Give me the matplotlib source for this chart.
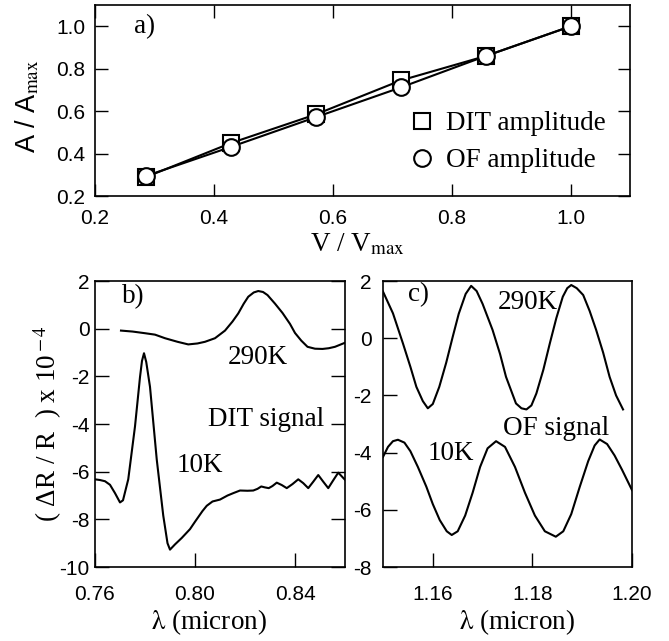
"""
Recreated figure: DIT / OF amplitudes and signals
"""
import matplotlib
matplotlib.use("Agg")
import matplotlib.pyplot as plt
from matplotlib.lines import Line2D

plt.rcParams["font.family"] = ["Liberation Sans", "DejaVu Sans"]
plt.rcParams["mathtext.fontset"] = "stix"
SERIF = ["Liberation Serif", "DejaVu Serif"]

# ---- panel a) amplitudes vs voltage ----
v_ratio = [0.2857, 0.4286, 0.5714, 0.7143, 0.8571, 1.0]
dit_amp = [0.29, 0.45, 0.585, 0.745, 0.86, 1.0]
of_amp = [0.295, 0.432, 0.572, 0.712, 0.86, 1.0]

# ---- panel b) DIT signal ----
dit_290_lam = [0.7704, 0.7750, 0.7800, 0.7840, 0.7880, 0.7930, 0.7973, 0.8010,
               0.8040, 0.8080, 0.8120, 0.8150, 0.8173, 0.8195, 0.8213, 0.8235,
               0.8253, 0.8272, 0.8290, 0.8320, 0.8350, 0.8380, 0.8400, 0.8425,
               0.8450, 0.8480, 0.8510, 0.8535, 0.8560, 0.8600]
dit_290_val = [-0.08, -0.12, -0.19, -0.25, -0.40, -0.55, -0.66, -0.62,
               -0.55, -0.40, -0.08, 0.30, 0.64, 1.05, 1.34, 1.52,
               1.58, 1.54, 1.41, 1.05, 0.66, 0.20, -0.18, -0.50,
               -0.76, -0.84, -0.85, -0.82, -0.76, -0.59]

dit_10_lam = [0.7600, 0.7620, 0.7640, 0.7660, 0.7680, 0.7700, 0.7712, 0.7733,
              0.7760, 0.7780, 0.7788, 0.7796, 0.7805, 0.7820, 0.7847, 0.7873,
              0.7890, 0.7900, 0.7920, 0.7947, 0.7980, 0.8000, 0.8030, 0.8047,
              0.8070, 0.8100, 0.8130, 0.8153, 0.8180, 0.8210, 0.8233, 0.8250,
              0.8265, 0.8280, 0.8295, 0.8310, 0.8327, 0.8347, 0.8367, 0.8390,
              0.8413, 0.8433, 0.8453, 0.8473, 0.8493, 0.8513, 0.8533, 0.8553,
              0.8573, 0.8600]
dit_10_val = [-6.32, -6.35, -6.40, -6.55, -6.90, -7.29, -7.20, -6.32,
              -4.10, -2.03, -1.35, -1.03, -1.40, -2.44, -5.49, -7.84,
              -9.00, -9.27, -9.05, -8.78, -8.41, -8.10, -7.65, -7.43,
              -7.25, -7.17, -7.00, -6.90, -6.79, -6.80, -6.79, -6.72,
              -6.62, -6.66, -6.69, -6.60, -6.46, -6.56, -6.69, -6.52,
              -6.32, -6.48, -6.69, -6.42, -6.14, -6.42, -6.69, -6.36,
              -6.04, -6.34]

# ---- panel c) OF signal ----
of_290_lam = [1.1500, 1.1520, 1.1540, 1.1555, 1.1567, 1.1580, 1.1590, 1.1600,
              1.1613, 1.1627, 1.1640, 1.1652, 1.1666, 1.1677, 1.1688, 1.1700,
              1.1720, 1.1735, 1.1747, 1.1767, 1.1778, 1.1788, 1.1798, 1.1808,
              1.1822, 1.1835, 1.1848, 1.1861, 1.1870, 1.1878, 1.1889, 1.1902,
              1.1915, 1.1928, 1.1942, 1.1955, 1.1968, 1.1982]
of_290_val = [1.63, 0.87, -0.18, -1.00, -1.70, -2.20, -2.45, -2.30,
              -1.70, -0.85, 0.05, 0.85, 1.55, 1.83, 1.65, 1.20,
              0.29, -0.55, -1.35, -2.28, -2.45, -2.49, -2.35, -1.93,
              -1.10, -0.18, 0.70, 1.45, 1.75, 1.86, 1.75, 1.51,
              0.95, 0.29, -0.50, -1.35, -2.00, -2.49]

of_10_lam = [1.1500, 1.1510, 1.1520, 1.1530, 1.1543, 1.1555, 1.1570, 1.1587,
             1.1600, 1.1614, 1.1628, 1.1638, 1.1650, 1.1665, 1.1680, 1.1695,
             1.1710, 1.1727, 1.1745, 1.1765, 1.1785, 1.1805, 1.1825, 1.1847,
             1.1862, 1.1878, 1.1895, 1.1912, 1.1925, 1.1935, 1.1950, 1.1965,
             1.1980, 1.2000]
of_10_val = [-4.15, -3.80, -3.60, -3.55, -3.65, -3.95, -4.50, -5.19,
             -5.80, -6.36, -6.75, -6.88, -6.75, -6.20, -5.40, -4.50,
             -3.85, -3.60, -3.80, -4.50, -5.40, -6.20, -6.75, -6.94,
             -6.75, -6.15, -5.20, -4.30, -3.75, -3.54, -3.70, -4.10,
             -4.60, -5.31]

fig = plt.figure(figsize=(6.69, 6.41), dpi=100)
ax_a = fig.add_axes([0.142, 0.694, 0.7997, 0.298])
ax_b = fig.add_axes([0.142, 0.1154, 0.3737, 0.4462])
ax_c = fig.add_axes([0.5725, 0.1154, 0.3722, 0.4462])

LW = 1.5
TXT = 19.5
TICK = 15
LAM = r"$\mathrm{\lambda}$ (micron)"

# ===== a) =====
ax_a.plot(v_ratio, dit_amp, color="black", lw=LW, marker="s", ms=11,
          mfc="white", mec="black", mew=1.5)
ax_a.plot(v_ratio, of_amp, color="black", lw=LW, marker="o", ms=12,
          mfc="white", mec="black", mew=1.5)
ax_a.set_xlim(0.2, 1.1)
ax_a.set_ylim(0.2, 1.1)
ax_a.set_xticks([0.2, 0.4, 0.6, 0.8, 1.0])
ax_a.set_yticks([0.2, 0.4, 0.6, 0.8, 1.0])
ax_a.set_xticklabels(["0.2", "0.4", "0.6", "0.8", "1.0"])
ax_a.set_yticklabels(["0.2", "0.4", "0.6", "0.8", "1.0"])
ax_a.tick_params(direction="in", length=9, width=1, top=True, right=True, labelsize=TICK)
ax_a.tick_params(axis="x", pad=9)
ax_a.tick_params(axis="y", pad=7)
ax_a.set_xlabel(r"V / V$_{\mathrm{max}}$", fontsize=TXT, family=SERIF)
ax_a.xaxis.set_label_coords(0.49, -0.185)
ax_a.set_ylabel(r"A / A$_{\mathrm{max}}$", fontsize=TXT)
ax_a.yaxis.set_label_coords(-0.100, 0.47)
ax_a.text(0.266, 1.0, "a)", fontsize=TXT, family=SERIF, va="center")

handles = [Line2D([], [], ls="none", marker="s", ms=11, mfc="white", mec="black", mew=1.5),
           Line2D([], [], ls="none", marker="o", ms=12, mfc="white", mec="black", mew=1.5)]
ax_a.legend(handles, ["DIT amplitude", "OF amplitude"], loc="upper left",
            bbox_to_anchor=(0.585, 0.445), frameon=False, borderpad=0, borderaxespad=0,
            handlelength=1.0, handletextpad=0.4, labelspacing=0.45,
            prop={"family": SERIF, "size": TXT})

# ===== b) =====
ax_b.plot(dit_290_lam, dit_290_val, color="black", lw=LW)
ax_b.plot(dit_10_lam, dit_10_val, color="black", lw=LW)
ax_b.set_xlim(0.76, 0.86)
ax_b.set_ylim(-10, 2)
ax_b.set_xticks([0.76, 0.80, 0.84])
ax_b.set_xticklabels(["0.76", "0.80", "0.84"])
ax_b.set_yticks([-10, -8, -6, -4, -2, 0, 2])
ax_b.set_yticklabels(["-10", "-8", "-6", "-4", "-2", "0", "2"])
ax_b.tick_params(direction="in", length=10, width=1, right=True, labelsize=TICK)
ax_b.tick_params(axis="x", pad=13)
ax_b.tick_params(axis="y", pad=4)
ax_b.set_xlabel(LAM, fontsize=TXT, family=SERIF)
ax_b.xaxis.set_label_coords(0.456, -0.14)
ax_b.set_ylabel(r"( ΔR / R  ) x 10$^{\,\mathrm{-}\,4}$", fontsize=TXT, family=SERIF)
ax_b.yaxis.set_label_coords(-0.125, 0.5)
ax_b.text(0.7708, 1.33, "b)", fontsize=TXT, family=SERIF, va="center")
ax_b.text(0.8132, -1.23, "290K", fontsize=TXT, family=SERIF, va="center")
ax_b.text(0.8052, -3.83, "DIT signal", fontsize=TXT, family=SERIF, va="center")
ax_b.text(0.7928, -5.73, "10K", fontsize=TXT, family=SERIF, va="center")

# ===== c) =====
ax_c.plot(of_290_lam, of_290_val, color="black", lw=LW)
ax_c.plot(of_10_lam, of_10_val, color="black", lw=LW)
ax_c.set_xlim(1.15, 1.20)
ax_c.set_ylim(-8, 2)
ax_c.set_xticks([1.16, 1.18, 1.20])
ax_c.set_xticklabels(["1.16", "1.18", "1.20"])
ax_c.set_yticks([-8, -6, -4, -2, 0, 2])
ax_c.set_yticklabels(["-8", "-6", "-4", "-2", "0", "2"])
ax_c.tick_params(direction="in", length=10, width=1, labelsize=TICK)
ax_c.tick_params(axis="x", pad=13)
ax_c.tick_params(axis="y", pad=8)
ax_c.set_xlabel(LAM, fontsize=TXT, family=SERIF)
ax_c.xaxis.set_label_coords(0.538, -0.14)
ax_c.text(1.155, 1.51, "c)", fontsize=TXT, family=SERIF, va="center")
ax_c.text(1.1731, 1.24, "290K", fontsize=TXT, family=SERIF, va="center")
ax_c.text(1.1741, -3.14, "OF signal", fontsize=TXT, family=SERIF, va="center")
ax_c.text(1.159, -4.02, "10K", fontsize=TXT, family=SERIF, va="center")

for ax in (ax_a, ax_b, ax_c):
    for s in ax.spines.values():
        s.set_linewidth(1.2)

plt.savefig("out.png", dpi=100)
plt.close()
